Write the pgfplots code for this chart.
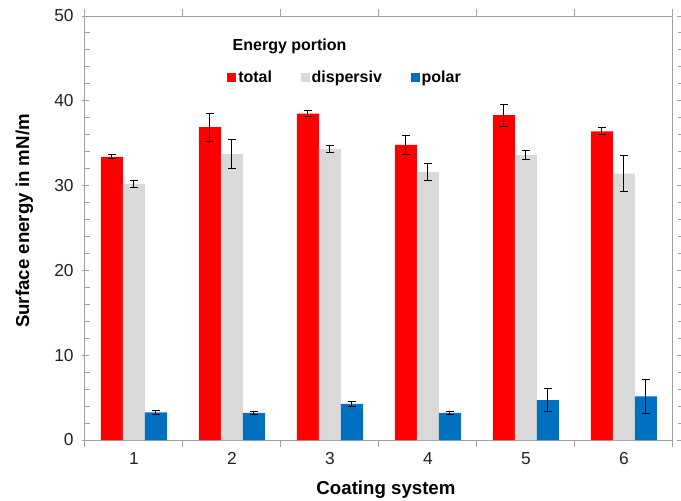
\documentclass[border=0pt]{standalone}
\usepackage{pgfplots}
\pgfplotsset{compat=1.18}
\usepackage{pgfplotstable}
\usepackage{fontspec}
\setmainfont{Liberation Sans}
\definecolor{cred}{HTML}{FF0000}
\definecolor{cgray}{HTML}{D9D9D9}
\definecolor{cblue}{HTML}{0070C0}
\definecolor{axgray}{HTML}{A0A0A0}
\definecolor{txt}{HTML}{222222}

\pgfplotstableread{
x y e
1 33.4 0.25
2 36.9 1.65
3 38.5 0.40
4 34.8 1.10
5 38.3 1.30
6 36.4 0.40
}\totaltab
\pgfplotstableread{
x y e
1 30.2 0.40
2 33.7 1.70
3 34.3 0.40
4 31.6 1.00
5 33.6 0.50
6 31.4 2.15
}\disptab
\pgfplotstableread{
x y e
1 3.25 0.20
2 3.20 0.15
3 4.25 0.30
4 3.20 0.20
5 4.70 1.35
6 5.15 2.00
}\polartab

\begin{document}
\begin{tikzpicture}
\useasboundingbox (0,0) rectangle (510.75pt,375pt);
\begin{axis}[
  at={(63.75pt,45pt)}, anchor=south west,
  scale only axis, width=441pt, height=318pt,
  ybar=0pt, bar width=16.5pt,
  xmin=0.5, xmax=6.5, ymin=0, ymax=50,
  xtick={0.5,1.5,...,6.5}, xticklabels={},
  extra x ticks={1,2,3,4,5,6},
  extra x tick labels={1,2,3,4,5,6},
  extra x tick style={major tick length=0pt},
  ytick={0,10,...,50}, minor y tick num=4,
  tick align=outside,
  major tick length=5pt, minor tick length=3.5pt,
  minor y tick style={xshift=3.5pt},
  major y tick style={xshift=3pt},
  every tick/.style={axgray, line width=0.75pt},
  axis line style={axgray, line width=0.75pt},
  /pgf/number format/assume math mode=true,
  ticklabel style={font=\fontsize{13}{15}\selectfont, text=txt},
  xticklabel style={yshift=-6pt},
  xlabel={Coating system},
  ylabel={Surface energy in mN/m},
  label style={font=\bfseries\fontsize{14}{16}\selectfont},
  xlabel style={at={(axis description cs:0.5119,-0.1297)}, anchor=base},
  ylabel style={at={(axis description cs:-0.0952,0.5165)}, anchor=base, rotate=0},
  legend columns=3,
  legend style={at={(axis description cs:0.2415,0.8544)}, anchor=west, draw=none, fill=none,
    inner sep=0pt, font=\bfseries\fontsize{12}{14}\selectfont,
    nodes={inner sep=1.5pt},
    /tikz/every even column/.append style={column sep=20pt}},
  legend image code/.code={\fill[#1] (0pt,-3.375pt) rectangle (6.75pt,3.375pt);},
  error bars/error bar style={black, line width=0.75pt},
  error bars/error mark options={black, rotate=90, mark size=3pt, line width=0.75pt},
]
\addplot[fill=cred, draw=none, error bars/.cd, y dir=both, y explicit]
  table[x=x, y=y, y error=e]{\totaltab};
\addplot[fill=cgray, draw=none, error bars/.cd, y dir=both, y explicit]
  table[x=x, y=y, y error=e]{\disptab};
\addplot[fill=cblue, draw=none, error bars/.cd, y dir=both, y explicit]
  table[x=x, y=y, y error=e]{\polartab};
\legend{total, dispersiv, polar}
\node[anchor=base west, font=\bfseries\fontsize{12}{14}\selectfont] at (axis description cs:0.2432,0.918) {Energy portion};
\end{axis}
\end{tikzpicture}
\end{document}
